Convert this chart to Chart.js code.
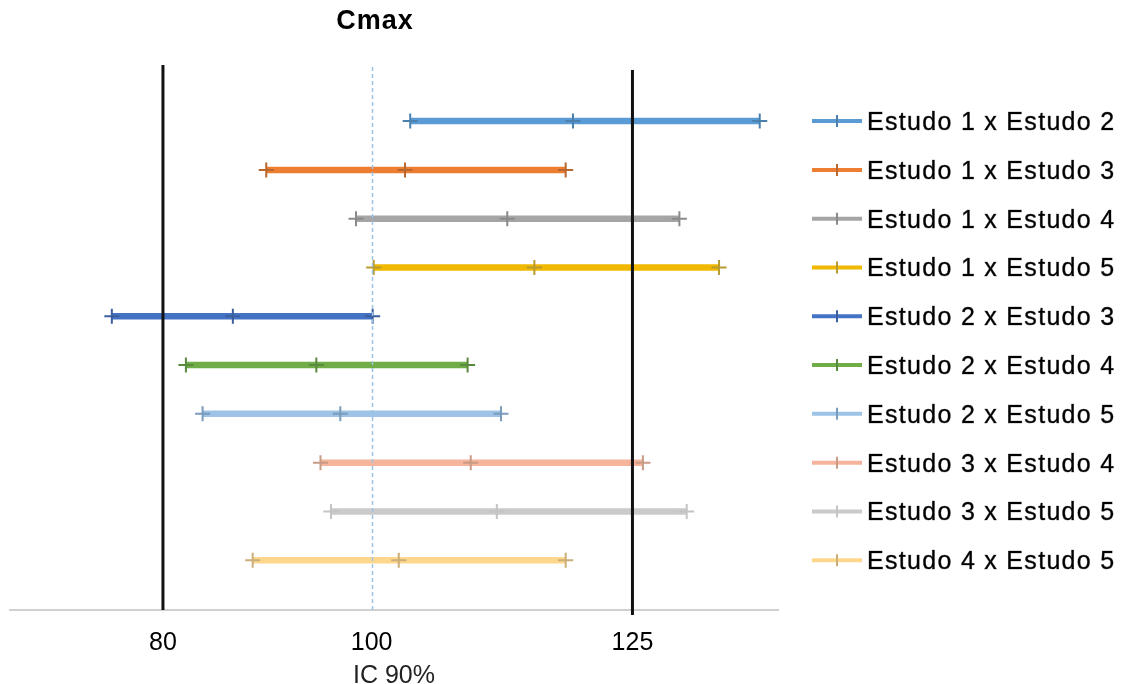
<!DOCTYPE html>
<html>
<head>
<meta charset="utf-8">
<script src="https://cdn.jsdelivr.net/npm/chart.js@4.4.1/dist/chart.umd.min.js"></script>
<style>
html,body{margin:0;padding:0;background:#fff;}
#wrap{width:1127px;height:684px;position:relative;}
canvas{display:block;}
</style>
</head>
<body>
<div id="wrap"><canvas id="c" width="1127" height="684"></canvas></div>
<script>
// ---- data ----
const comparisons = [
  "Estudo 1 x Estudo 2", "Estudo 1 x Estudo 3", "Estudo 1 x Estudo 4",
  "Estudo 1 x Estudo 5", "Estudo 2 x Estudo 3", "Estudo 2 x Estudo 4",
  "Estudo 2 x Estudo 5", "Estudo 3 x Estudo 4", "Estudo 3 x Estudo 5",
  "Estudo 4 x Estudo 5"
];
const lowerCI  = [103.7, 89.9, 98.5, 100.2, 75.1, 82.2, 83.8, 95.1, 96.1, 88.6];
const pointEst = [119.3, 103.2, 113.0, 115.6, 86.7, 94.7, 97.0, 109.5, 112.0, 102.6];
const upperCI  = [137.2, 118.6, 129.5, 133.3, 100.1, 109.2, 112.4, 126.0, 130.2, 118.6];
const xTicks = [80, 100, 125];
const limitLines = [80, 125];
const referenceLine = 100;
const chartTitle = "Cmax";
const axisTitle = "IC 90%";

// ---- styles ----
const lineColors = ['#5b9bd5','#ed7d31','#a5a5a5','#f0b800','#4472c4','#70ad47','#9dc3e6','#f5b49b','#cacaca','#ffd78c'];
const markerColors = ['#4a7fae','#b8682e','#8a8a8a','#b89a30','#3b5f9e','#5a8a3e','#7a9cbc','#c99a85','#c4c4c4','#c9ae78'];
const FONT = '"Liberation Sans", Arial, sans-serif';

const datasets = comparisons.map((name, i) => ({
  label: name,
  data: [
    {x: lowerCI[i], y: i},
    {x: pointEst[i], y: i},
    {x: upperCI[i], y: i}
  ],
  showLine: true,
  borderColor: lineColors[i],
  backgroundColor: lineColors[i],
  borderWidth: 6.5,
  borderCapStyle: 'butt',
  pointStyle: 'cross',
  pointRadius: 7.5,
  pointHoverRadius: 7.5,
  pointBorderColor: markerColors[i],
  pointBorderWidth: 2
}));

const decor = {
  id: 'decor',
  afterDatasetsDraw(chart) {
    const {ctx, chartArea, scales} = chart;
    const xs = scales.x;
    ctx.save();
    // reference dashed line
    const rx = Math.round(xs.getPixelForValue(referenceLine)) + 0.5;
    ctx.strokeStyle = '#9dc3e6';
    ctx.lineWidth = 1.5;
    ctx.setLineDash([4, 3]);
    ctx.beginPath();
    ctx.moveTo(rx, chartArea.top + 2);
    ctx.lineTo(rx, chartArea.bottom);
    ctx.stroke();
    ctx.setLineDash([]);
    // limit lines
    ctx.strokeStyle = '#111';
    ctx.lineWidth = 3;
    limitLines.forEach((v, k) => {
      const px = xs.getPixelForValue(v);
      const off = k === 0 ? 0 : 5;
      ctx.beginPath();
      ctx.moveTo(px, chartArea.top + off);
      ctx.lineTo(px, chartArea.bottom + off);
      ctx.stroke();
    });
    ctx.restore();
  },
  afterDraw(chart) {
    const {ctx, scales} = chart;
    const ys = scales.y;
    ctx.save();
    // title
    ctx.fillStyle = '#000';
    ctx.font = 'bold 27px ' + FONT;
    ctx.textAlign = 'center';
    ctx.textBaseline = 'middle';
    try { ctx.letterSpacing = '1px'; } catch (e) {}
    ctx.fillText(chartTitle, 375, 22);
    // legend
    ctx.font = '25px ' + FONT;
    try { ctx.letterSpacing = '1.3px'; } catch (e) {}
    ctx.textAlign = 'left';
    comparisons.forEach((name, i) => {
      const y = ys.getPixelForValue(i);
      ctx.strokeStyle = lineColors[i];
      ctx.lineWidth = 4;
      ctx.beginPath();
      ctx.moveTo(812, y);
      ctx.lineTo(862, y);
      ctx.stroke();
      ctx.strokeStyle = markerColors[i];
      ctx.lineWidth = 2;
      ctx.beginPath();
      ctx.moveTo(837, y - 6);
      ctx.lineTo(837, y + 6);
      ctx.stroke();
      ctx.fillStyle = '#000';
      ctx.strokeStyle = 'rgba(0,0,0,0.55)';
      ctx.lineWidth = 0.6;
      ctx.fillText(name, 867, y + 2);
      ctx.strokeText(name, 867, y + 2);
    });
    try { ctx.letterSpacing = '0px'; } catch (e) {}
    ctx.restore();
  }
};

new Chart(document.getElementById('c'), {
  type: 'scatter',
  data: { datasets },
  options: {
    responsive: false,
    animation: false,
    layout: { padding: { left: 10, right: 349, top: 65, bottom: 0 } },
    plugins: {
      legend: { display: false },
      tooltip: { enabled: false },
      title: { display: false }
    },
    scales: {
      x: {
        type: 'linear',
        position: 'bottom',
        min: 65.34,
        max: 138.95,
        grid: { display: false, drawTicks: false },
        border: { display: true, color: '#d0d0d0', width: 2 },
        afterBuildTicks: (axis) => { axis.ticks = xTicks.map(v => ({ value: v })); },
        afterFit: (s) => { s.height = 74; },
        ticks: {
          color: '#000',
          padding: 18,
          font: { family: FONT, size: 25 },
          callback: (v) => String(v)
        },
        title: {
          display: true,
          text: axisTitle,
          color: '#222',
          font: { family: FONT, size: 25, lineHeight: 1 },
          padding: { top: 0, bottom: -5 }
        }
      },
      y: {
        type: 'linear',
        display: false,
        reverse: true,
        min: -1.15,
        max: 10.02
      }
    }
  },
  plugins: [decor]
});
</script>
</body>
</html>
